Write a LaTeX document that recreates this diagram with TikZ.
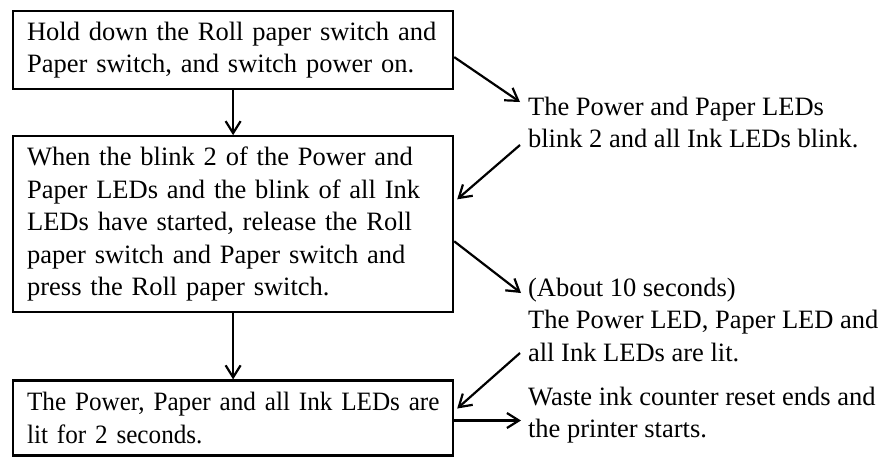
\documentclass[tikz,border=0pt]{standalone}
\usepackage{fontspec}
\setmainfont{Liberation Serif}
\newfontfamily\narrowserif[FakeStretch=0.95]{Liberation Serif}
\usetikzlibrary{arrows.meta, positioning}

\begin{document}
\begin{tikzpicture}[->, >={Straight Barb[length=6pt,width=7.5pt]}, x=0.5pt, y=-0.5pt, line width=1.1pt]
      \tikzstyle{stepbox}=[draw=black, text=black, align=left, font=\fontsize{13.25pt}{16.25pt}\selectfont, inner xsep=7pt, inner ysep=0pt, text width=206pt, anchor=north west]
      \tikzstyle{note}=[align=left, font=\fontsize{13.25pt}{16.25pt}\selectfont, inner sep=0pt, anchor=north west]
      \useasboundingbox (0,0) rectangle (882,456);
      \node[stepbox, minimum height=39pt] (hold) at (12,10) {Hold down the Roll paper switch and\\Paper switch, and switch power on.};
      \node[stepbox, minimum height=88pt] (release) [below = 22.5pt of hold.south west, anchor=north west] {When the blink 2 of the Power and\\Paper LEDs and the blink of all Ink\\LEDs have started, release the Roll\\paper switch and Paper switch and\\press the Roll paper switch.};
      \node[stepbox, minimum height=37.5pt] (lit) [below = 33pt of release.south west, anchor=north west] {\narrowserif\mbox{The Power, Paper and all Ink LEDs are}\\lit for 2 seconds.};
      \node[note] (blink) at (527,96) {The Power and Paper LEDs\\blink 2 and all Ink LEDs blink.};
      \node[note] (ten) at (527,277) {(About 10 seconds)\\The Power LED, Paper LED and\\all Ink LEDs are lit.};
      \node[note] (ends) at (527,386) {Waste ink counter reset ends and\\the printer starts.};
      \coordinate (endtip) at (lit.east -| ends.west);
      \path (hold) edge (release);
      \path (release) edge (lit);
      \path ([yshift=-3.5pt]hold.east) edge ([xshift=-3.5pt,yshift=-3pt]blink.north west);
      \path ([xshift=-3.5pt,yshift=-24.5pt]blink.north west) edge ([xshift=1.5pt,yshift=12.5pt]release.east);
      \path ([yshift=-8.5pt]release.east) edge ([xshift=-3pt,yshift=-8pt]ten.north west);
      \path ([xshift=-3.5pt,yshift=-38pt]ten.north west) edge ([xshift=1.5pt,yshift=4.75pt]lit.east);
      \path ([yshift=-1.25pt]lit.east) edge ([xshift=-3pt,yshift=-1.25pt]endtip);
    \end{tikzpicture}
\end{document}
